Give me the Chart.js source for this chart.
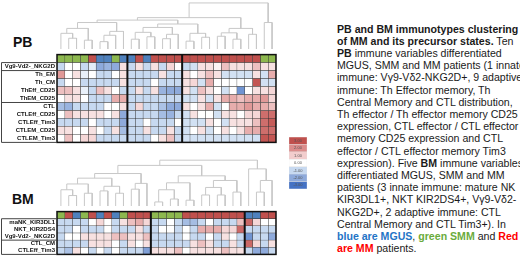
<!DOCTYPE html>
<html>
<head>
<meta charset="utf-8">
<script src="https://cdn.jsdelivr.net/npm/chart.js@4.4.1/dist/chart.umd.min.js"></script>
<style>
  html, body { margin: 0; padding: 0; background: #fff; }
  body { width: 520px; height: 262px; position: relative; overflow: hidden; font-family: "Liberation Sans", Arial, sans-serif; }
  canvas { position: absolute; }
  .tag { position: absolute; font-weight: bold; font-size: 14px; line-height: 14px; color: #111; }
  #txt { position: absolute; left: 337px; top: 22.5px; font-size: 10.6px; line-height: 12.2px; white-space: nowrap; color: #1a1a1a; }
  .b { color: #1f74c6; font-weight: bold; }
  .g { color: #6aab3c; font-weight: bold; }
  .r { color: #f00; font-weight: bold; }
</style>
</head>
<body>
<div class="tag" style="left:13px;top:35px">PB</div>
<div class="tag" style="left:12px;top:192px">BM</div>

<canvas id="pbDen" width="219" height="49" style="left:57px;top:0px"></canvas>
<canvas id="pbHeat" width="278" height="99" style="left:0px;top:49px"></canvas>
<canvas id="bmDen" width="219" height="58" style="left:57px;top:148px"></canvas>
<canvas id="bmHeat" width="278" height="54" style="left:0px;top:206px"></canvas>
<canvas id="scale" width="20" height="54" style="left:288px;top:136px"></canvas>

<div id="txt">
<b>PB and BM immunotypes clustering</b><br>
<b>of MM and its precursor states.</b> Ten<br>
<b>PB</b> immune variables differentiated<br>
MGUS, SMM and MM patients (1 innate<br>
immune: Vγ9-Vδ2-NKG2D+, 9 adaptive<br>
immune: Th Effector memory, Th<br>
Central Memory and CTL distribution,<br>
Th effector / Th effector memory CD25<br>
expression, CTL effector / CTL effector<br>
memory CD25 expression and CTL<br>
effector / CTL effector memory Tim3<br>
expression). Five <b>BM</b> immune variables<br>
differentiated MGUS, SMM and MM<br>
patients (3 innate immune: mature NK<br>
KIR3DL1+, NKT KIR2DS4+, Vγ9-Vδ2-<br>
NKG2D+, 2 adaptive immune: CTL<br>
Central Memory and CTL Tim3+). In<br>
<span class="b">blue are MGUS</span>, <span class="g">green SMM</span> and <span class="r">Red</span><br>
<span class="r">are MM</span> patients.
</div>

<script>
// --- PB ---
const pbRows = ['Vg9-Vd2-_NKG2D', 'Th_EM', 'Th_CM', 'ThEff_CD25', 'ThEM_CD25',
                'CTL', 'CTLEff_CD25', 'CTLEff_Tim3', 'CTLEM_CD25', 'CTLEM_Tim3'];
// patient group per column (S = SMM, M = MM, G = MGUS)
const pbGroups = ['S','S','S','S','M','G','G','S','G',
                  'G','M','G','M','M','M','M',
                  'M','M','M','M','M','M','M','M','M','M','S','S'];
const pbBlocks = [9, 16];
const pbBoxes = [1, 5, 10];   // last row of each label group
const pbValues = [
  [-1, 0, 0, -1, -0.5, -2, -1.8, -2, 0.6,   -1, 0.6, -1, 0.6, -1, 0.8, 0,   -1, -0.8, 0.6, 0.6, 0.2, 1.2, 0.6, 0.6, 0.6, 1.2, 0.6, 0.6],
  [1.8, 0, 0.6, -0.4, 0, -1, -1, 0, 0.6,    -1, -1, -1, -1, 0.6, -1, -1,   0.6, 0, 0.6, 1.2, 0.6, -0.8, -0.8, -0.8, -0.8, 0.6, -0.8, 1.5],
  [-1, 0, 0, -1, -1, -1, -1, -1, 0.6,       -1, -1, -1, 0, -1, -1, -1,     0.6, 0.8, -0.8, 1.5, 0, 0, 0, 0, 0, 2.9, -0.8, -0.8],
  [1.2, 1.2, 0.6, -0.4, -1, 1.2, 0.6, 0, -1, -1, 0.6, -1, 0.6, -1.8, -2, -2, 0.6, -0.8, 1.2, 0.6, 0, -0.8, 0, -2.4, 0, 0.6, 0.6, 0.8],
  [0, 0.6, 0.6, 0, -1, -1, -1, 1.5, 1.5,    -1, -1, -1, -1, -1, -1, -1,    -0.8, -0.8, 0.6, -0.8, 0.6, 1.5, 1.5, 1.2, 1.5, 1.5, 1.8, 0.8],
  [-1.6, -1.8, -1, -1, -1, -1, 0, 0, 0.6,   -1, 0.8, -1, -1, -1.5, -2, -2, 0.6, 0, 0.6, 1.5, -0.8, 0, 1.5, 1.5, 1.8, 1.5, 1.5, 1.2],
  [0, 1.2, 0.6, 0.6, 0.6, 0.6, 0, 0.6, -2,  -1, -1, -1, -1, -1.6, -1.8, -1, -0.8, 0.6, 0, 0, -0.8, 0.6, 0.6, 0, 0.8, 0.8, 2.5, 2.5],
  [-1, -1, -1, -1, 0, -1, -1, -1, -2,       -1, -1, 0, -1, -1, -1, 0,      -0.8, -0.8, -0.8, 0.6, 0, -0.8, 0.6, 0.6, 0.6, 1.2, 2.5, 2.8],
  [0.6, 0.6, 0, 0, 0.6, 0, -1, 0.6, -1.6,   -1, -1, 0.6, -1, -1, 0.6, -1,  -0.8, 0, 0.6, -0.8, 0, 0.6, 0, 0.6, 1.5, 1.5, 2.5, 2.5],
  [0, 1.2, 0, 0.8, 0.8, -1, -1, -1, -1,     -1, -1, -1, 0, 0.6, 1.2, -1,   -0.8, -0.8, -0.8, -0.8, -0.8, -0.8, -0.8, -0.8, -0.8, -0.8, 2.9, 2.9]
];
// dendrogram merges: [node a, node b, height]; leaves are 0..27, merges are numbered from 28
const pbTree = [
  [1, 2, 2.2], [0, 28, 3.2], [3, 4, 1.8], [29, 30, 4.2],
  [5, 6, 1.5], [32, 7, 2.8], [33, 8, 3.6], [31, 34, 5.4],
  [9, 10, 2.0], [11, 12, 2.5], [36, 37, 3.4], [13, 14, 2.1], [39, 15, 3.0], [38, 40, 4.4],
  [16, 17, 1.6], [18, 19, 2.4], [42, 43, 3.2], [41, 44, 5.1], [35, 45, 5.9],
  [20, 21, 2.6], [22, 23, 2.0], [47, 48, 3.3], [24, 25, 3.0], [49, 50, 4.2],
  [46, 51, 6.4], [26, 27, 5.4], [52, 53, 9.4]
];

// --- BM ---
const bmRows = ['maNK_KIR3DL1', 'NKT_KIR2DS4', 'Vg9-Vd2-_NKG2D', 'CTL_CM', 'CTLEff_Tim3'];
const bmGroups = ['S','M','G','S','M','G','M','G','S','M','M','M',
                  'S','S','S','S','M','M','M','M','M','M','M','M',
                  'G','G','M','M'];
const bmBlocks = [12, 24];
const bmBoxes = [3, 5];
const bmValues = [
  [-1, -1, -1, -1, 0, 0.8, 0, -1, 0.6, 1.2, 1.5, 0.8,   -1, -1, 0, -1, -1.6, -1.6, -1, 0, -1, -1, -1, 1.2,   2.6, 0.8, 0, 0],
  [-1, -1, 0, -1, -1, -1, 0, -1, -1, -1, 0.6, -1,       -1, 0, 0, -1, 0, -1, 1.5, 1.5, 1.5, 0.8, 0.8, 2.6,    -1, -1, -1, -1],
  [-1, 0, 0, 0.6, 0.6, 0.6, 0.6, 1.2, 1.2, 0.6, 0.6, 1.2, -1, -1, -1, -1, 0, -1, -1, 0, -1, 0.6, 0, -1,        -2.4, -1, -1, -2],
  [-1, -1, -1, -1, 0.6, 0.6, 0.6, 0, -1, 0.6, 0, 0.6,   -1, -1, -1, -1, -1, 0.6, 1.2, 0.6, -1, -1, 0.6, -1,  2.6, 0.8, -1, 0.6],
  [-1, -1.5, 0.6, 0, -1, 0, -1, 0, -1, -1, -1, -2.2,    0.6, 0.6, 0.6, 1.2, 0, 0.6, 0.6, 0.6, 0.6, 1.2, 0.6, 0.6, -1, -2, -2, -1]
];
const bmTree = [
  [1, 2, 1.8], [0, 28, 2.8], [3, 4, 2.2], [29, 30, 3.8],
  [5, 6, 2.6], [7, 8, 2.2], [32, 33, 3.4], [31, 34, 4.8],
  [9, 10, 2.9], [36, 11, 3.9], [35, 37, 5.6],
  [12, 13, 0.7], [14, 15, 1.2], [39, 40, 2.8], [16, 17, 1.0], [41, 42, 4.0],
  [18, 19, 1.9], [20, 21, 1.9], [44, 45, 3.2], [22, 23, 2.4], [46, 47, 4.4], [43, 48, 5.2],
  [38, 49, 7.0], [25, 26, 2.4], [51, 27, 4.4], [24, 52, 6.4], [50, 53, 7.9]
];

// --- colour scale ---
const scaleValues = [3, 2, 1, 0, -1, -2, -3];
const scaleLabels = ['3.00', '2.00', '1.00', '0.00', '-1.00', '-2.00', '-3.00'];

const groupColor = { G: '#4f81bd', S: '#8db84f', M: '#c0504d' };
const stops = [
  [-3, [68, 114, 196]], [-2, [142, 170, 219]], [-1, [199, 217, 240]], [0, [255, 255, 255]],
  [1, [242, 205, 205]], [2, [219, 140, 139]], [3, [192, 80, 77]]
];
function valueColor(v) {
  v = Math.max(-3, Math.min(3, v));
  for (let i = 0; i < stops.length - 1; i++) {
    const [a, ca] = stops[i], [b, cb] = stops[i + 1];
    if (v <= b) {
      const t = (v - a) / (b - a);
      const c = ca.map((x, k) => Math.round(x + (cb[k] - x) * t));
      return `rgb(${c[0]},${c[1]},${c[2]})`;
    }
  }
  return 'rgb(192,80,77)';
}

// thick block lines, outer frame and the row label boxes
function framePlugin(blocks, boxes) {
  return {
    id: 'frame',
    afterDatasetsDraw(chart) {
      const ctx = chart.ctx, ca = chart.chartArea;
      const xs = chart.scales.x, ys = chart.scales.y;
      const rowH = ys.getPixelForValue(1) - ys.getPixelForValue(0);
      const edge = i => ys.getPixelForValue(i) + rowH / 2; // bottom edge of row i
      ctx.save();
      ctx.strokeStyle = '#111';
      ctx.lineWidth = 2;
      blocks.forEach(b => {
        const x = xs.getPixelForValue(b);
        ctx.beginPath(); ctx.moveTo(x, ca.top); ctx.lineTo(x, ca.bottom); ctx.stroke();
      });
      ctx.lineWidth = 1.5;
      ctx.strokeRect(ca.left, ca.top, ca.right - ca.left, ca.bottom - ca.top);
      ctx.strokeStyle = '#444';
      ctx.lineWidth = 1;
      const top = edge(0);
      ctx.beginPath();
      ctx.moveTo(1.5, top); ctx.lineTo(ca.left, top);
      ctx.moveTo(1.5, top); ctx.lineTo(1.5, ca.bottom);
      boxes.forEach(r => {
        const y = edge(r);
        ctx.moveTo(1.5, y); ctx.lineTo(ca.left, y);
      });
      ctx.stroke();
      ctx.restore();
    }
  };
}

function heatmap(id, rows, groups, values, blocks, boxes) {
  const labels = [''].concat(rows);
  const datasets = groups.map((g, c) => ({
    data: labels.map(() => 1),
    backgroundColor: [groupColor[g]].concat(values.map(r => valueColor(r[c]))),
    borderColor: '#3a3a3a',
    borderWidth: 0.5,
    borderSkipped: false,
    barPercentage: 1,
    categoryPercentage: 1
  }));
  return new Chart(document.getElementById(id), {
    type: 'bar',
    data: { labels, datasets },
    options: {
      indexAxis: 'y',
      responsive: false,
      animation: false,
      layout: { padding: { top: 2, right: 2, bottom: 2, left: 0 } },
      plugins: { legend: { display: false }, tooltip: { enabled: false } },
      scales: {
        x: { stacked: true, min: 0, max: groups.length, display: false },
        y: {
          stacked: true,
          grid: { display: false, drawTicks: false },
          border: { display: false },
          ticks: { autoSkip: false, padding: 2, color: '#111',
                   font: { family: 'Liberation Sans, Arial', size: 6, weight: 'bold' } },
          afterFit: s => { s.width = 57; }
        }
      }
    },
    plugins: [framePlugin(blocks, boxes)]
  });
}

function dendrogram(id, tree, nLeaves, top) {
  const pos = [], hgt = [];
  for (let i = 0; i < nLeaves; i++) { pos.push(i + 0.5); hgt.push(0); }
  const datasets = tree.map(([a, b, h]) => {
    const pts = [
      { x: pos[a], y: hgt[a] }, { x: pos[a], y: h },
      { x: pos[b], y: h }, { x: pos[b], y: hgt[b] }
    ];
    pos.push((pos[a] + pos[b]) / 2);
    hgt.push(h);
    return { data: pts, showLine: true, borderColor: '#c8c8c8', borderWidth: 1,
             pointRadius: 0, clip: false };
  });
  return new Chart(document.getElementById(id), {
    type: 'scatter',
    data: { datasets },
    options: {
      responsive: false,
      animation: false,
      layout: { padding: 0 },
      plugins: { legend: { display: false }, tooltip: { enabled: false } },
      scales: {
        x: { type: 'linear', min: 0, max: nLeaves, display: false },
        y: { min: 0, max: top, display: false }
      }
    }
  });
}

heatmap('pbHeat', pbRows, pbGroups, pbValues, pbBlocks, pbBoxes);
heatmap('bmHeat', bmRows, bmGroups, bmValues, bmBlocks, bmBoxes);
dendrogram('pbDen', pbTree, pbGroups.length, 10);
dendrogram('bmDen', bmTree, bmGroups.length, 10);

// colour key: bottom dataset is -3
const keyLabels = {
  id: 'keyLabels',
  afterDatasetsDraw(chart) {
    const ctx = chart.ctx;
    ctx.save();
    ctx.font = '4px "Liberation Sans", Arial';
    ctx.fillStyle = '#555';
    ctx.textAlign = 'center';
    ctx.textBaseline = 'middle';
    chart.data.datasets.forEach((ds, i) => {
      const el = chart.getDatasetMeta(i).data[0];
      ctx.fillText(ds.label, el.x, (el.y + el.base) / 2);
    });
    ctx.restore();
  }
};
new Chart(document.getElementById('scale'), {
  type: 'bar',
  data: {
    labels: [''],
    datasets: scaleValues.map((v, i) => ({
      label: scaleLabels[i], data: [1], backgroundColor: valueColor(v),
      borderColor: '#e4e4e4', borderWidth: 0.5, borderSkipped: false,
      barPercentage: 1, categoryPercentage: 1
    })).reverse()
  },
  options: {
    responsive: false,
    animation: false,
    layout: { padding: 1 },
    plugins: { legend: { display: false }, tooltip: { enabled: false } },
    scales: {
      x: { stacked: true, display: false },
      y: { stacked: true, min: 0, max: scaleValues.length, display: false }
    }
  },
  plugins: [keyLabels]
});
</script>
</body>
</html>
